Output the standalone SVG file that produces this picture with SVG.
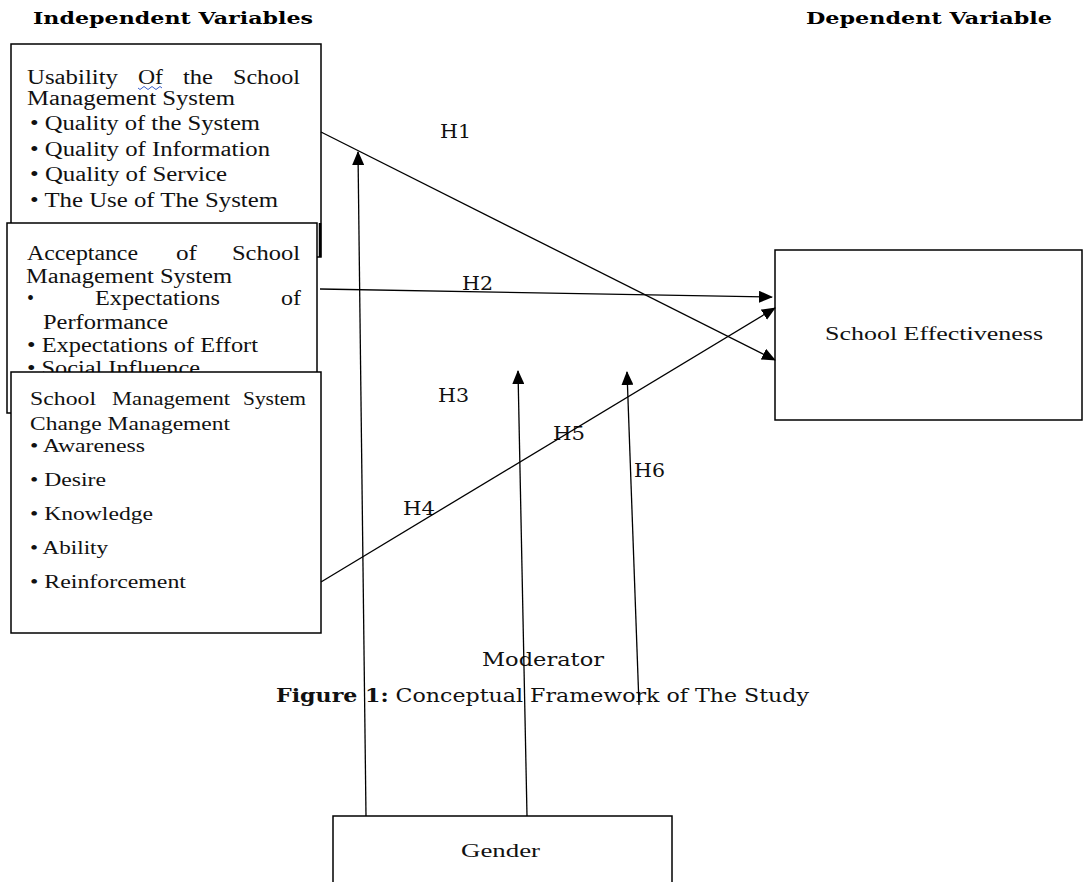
<svg xmlns="http://www.w3.org/2000/svg" width="1083" height="882" viewBox="0 0 1083 882">
<style>
.box{fill:#fff;stroke:#000;stroke-width:1.5}
.bt{font-family:"Liberation Serif",serif;font-size:20px;fill:#111}
.bt3{font-family:"Liberation Serif",serif;font-size:18px;fill:#111}
.lab{font-family:"DejaVu Serif",serif;font-size:18px;fill:#111}
.hdr{font-family:"DejaVu Serif",serif;font-size:17px;font-weight:bold;fill:#000}
.con{stroke:#000;stroke-width:1.3;fill:none;marker-end:url(#ah)}
</style>
<defs>
<marker id="ah" markerUnits="userSpaceOnUse" markerWidth="14" markerHeight="12" refX="13" refY="6" orient="auto">
<path d="M0,0 L14,6 L0,12 Z" fill="#000"/>
</marker>
</defs>
<rect width="1083" height="882" fill="#fff"/>
<g id="headers">
<text class="hdr" x="33" y="24" textLength="280" lengthAdjust="spacingAndGlyphs">Independent Variables</text>
<text class="hdr" x="806" y="24" textLength="246" lengthAdjust="spacingAndGlyphs">Dependent Variable</text>
</g>
<g id="usability">
<rect class="box" x="11" y="44" width="310" height="213"/>
<line x1="320" y1="223" x2="320" y2="257" stroke="#000" stroke-width="2.5"/>
<text class="bt" x="27" y="84" textLength="91" lengthAdjust="spacingAndGlyphs">Usability</text>
<text class="bt" x="138" y="84" textLength="25" lengthAdjust="spacingAndGlyphs">Of</text>
<text class="bt" x="183" y="84" textLength="30" lengthAdjust="spacingAndGlyphs">the</text>
<text class="bt" x="233" y="84" textLength="67" lengthAdjust="spacingAndGlyphs">School</text>
<path d="M138,88 q2,3 4,0 t4,0 t4,0 t4,0 t4,0 t4,0" stroke="#3a5fcd" stroke-width="1" fill="none"/>
<text class="bt" x="27" y="105" textLength="208" lengthAdjust="spacingAndGlyphs">Management System</text>
<text class="bt" x="30" y="130" textLength="230" lengthAdjust="spacingAndGlyphs">• Quality of the System</text>
<text class="bt" x="30" y="156" textLength="240" lengthAdjust="spacingAndGlyphs">• Quality of Information</text>
<text class="bt" x="30" y="181" textLength="197" lengthAdjust="spacingAndGlyphs">• Quality of Service</text>
<text class="bt" x="30" y="207" textLength="248" lengthAdjust="spacingAndGlyphs">• The Use of The System</text>
</g>
<g id="acceptance">
<rect class="box" x="7" y="223" width="310" height="190"/>
<text class="bt" x="27" y="260" textLength="111" lengthAdjust="spacingAndGlyphs">Acceptance</text>
<text class="bt" x="176" y="260" textLength="21" lengthAdjust="spacingAndGlyphs">of</text>
<text class="bt" x="232" y="260" textLength="68" lengthAdjust="spacingAndGlyphs">School</text>
<text class="bt" x="26" y="283" textLength="206" lengthAdjust="spacingAndGlyphs">Management System</text>
<text class="bt" x="27" y="305">•</text>
<text class="bt" x="95" y="305" textLength="125" lengthAdjust="spacingAndGlyphs">Expectations</text>
<text class="bt" x="281" y="305" textLength="20" lengthAdjust="spacingAndGlyphs">of</text>
<text class="bt" x="43" y="329" textLength="125" lengthAdjust="spacingAndGlyphs">Performance</text>
<text class="bt" x="27" y="352" textLength="231" lengthAdjust="spacingAndGlyphs">• Expectations of Effort</text>
<text class="bt" x="27" y="375" textLength="173" lengthAdjust="spacingAndGlyphs">• Social Influence</text>
</g>
<g id="change">
<rect class="box" x="11" y="372" width="310" height="261"/>
<text class="bt3" x="30" y="405" textLength="66" lengthAdjust="spacingAndGlyphs">School</text>
<text class="bt3" x="112" y="405" textLength="118" lengthAdjust="spacingAndGlyphs">Management</text>
<text class="bt3" x="243" y="405" textLength="63" lengthAdjust="spacingAndGlyphs">System</text>
<text class="bt3" x="30" y="430" textLength="200" lengthAdjust="spacingAndGlyphs">Change Management</text>
<text class="bt3" x="30" y="452" textLength="115" lengthAdjust="spacingAndGlyphs">• Awareness</text>
<text class="bt3" x="30" y="486" textLength="76" lengthAdjust="spacingAndGlyphs">• Desire</text>
<text class="bt3" x="30" y="520" textLength="123" lengthAdjust="spacingAndGlyphs">• Knowledge</text>
<text class="bt3" x="30" y="554" textLength="78" lengthAdjust="spacingAndGlyphs">• Ability</text>
<text class="bt3" x="30" y="588" textLength="156" lengthAdjust="spacingAndGlyphs">• Reinforcement</text>
</g>
<g id="effectiveness">
<rect class="box" x="775" y="250" width="307" height="170"/>
<text class="bt3" x="825" y="340" textLength="218" lengthAdjust="spacingAndGlyphs">School Effectiveness</text>
</g>
<g id="gender">
<rect class="box" x="333" y="816" width="339" height="80"/>
<text class="bt3" x="461" y="857" textLength="79" lengthAdjust="spacingAndGlyphs">Gender</text>
</g>
<g id="labels">
<text class="lab" x="440" y="138" textLength="31" lengthAdjust="spacingAndGlyphs">H1</text>
<text class="lab" x="462" y="290" textLength="31" lengthAdjust="spacingAndGlyphs">H2</text>
<text class="lab" x="438" y="402" textLength="31" lengthAdjust="spacingAndGlyphs">H3</text>
<text class="lab" x="403" y="515" textLength="32" lengthAdjust="spacingAndGlyphs">H4</text>
<text class="lab" x="553" y="440" textLength="32" lengthAdjust="spacingAndGlyphs">H5</text>
<text class="lab" x="634" y="477" textLength="31" lengthAdjust="spacingAndGlyphs">H6</text>
<text class="lab" x="482" y="666" textLength="122" lengthAdjust="spacingAndGlyphs">Moderator</text>
<text class="lab" x="276" y="702" textLength="533" lengthAdjust="spacingAndGlyphs"><tspan font-weight="bold">Figure 1:</tspan> Conceptual Framework of The Study</text>
</g>
<g id="connectors">
<line class="con" x1="321" y1="132" x2="775" y2="360"/>
<line class="con" x1="320" y1="289" x2="772" y2="297"/>
<line class="con" x1="321" y1="582" x2="775" y2="308"/>
<line class="con" x1="366" y1="816" x2="358" y2="152"/>
<line class="con" x1="527" y1="816" x2="518" y2="371"/>
<line class="con" x1="639" y1="705" x2="627" y2="372"/>
</g>
</svg>
